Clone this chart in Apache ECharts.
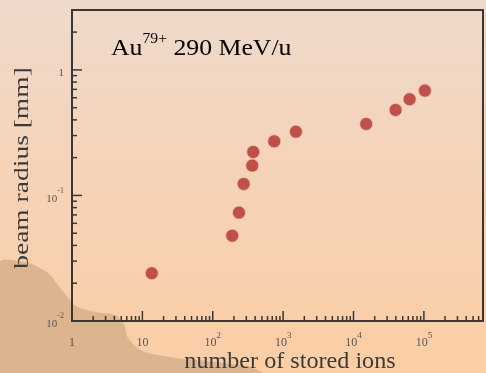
<!DOCTYPE html>
<html>
<head>
<meta charset="utf-8">
<script src="https://cdn.jsdelivr.net/npm/echarts@6/dist/echarts.min.js"></script>
<style>html,body{margin:0;padding:0;}#c{width:486px;height:373px;}</style>
</head>
<body>
<div id="c"></div>
<script>
// ---- data ----
const ionCounts   = [13.6, 189, 236, 275, 364, 376, 748, 1520, 15150, 39600, 62700, 103300];
const beamRadius  = [0.024, 0.0478, 0.073, 0.1235, 0.173, 0.222, 0.270, 0.322, 0.371, 0.480, 0.584, 0.684];
const xTicks      = [1, 10, 100, 1000, 10000, 100000];
const xTickLabels = ['{b|1}', '{b|10}', '{b|10}{s|2}', '{b|10}{s|3}', '{b|10}{s|4}', '{b|10}{s|5}'];
const yTicks      = [0.01, 0.1, 1];
const yTickLabels = ['{b|10}{s|-2}', '{b|10}{s|-1}', '{b|1}'];
const xRange = [1, 692000];
const yRange = [0.01, 3];
const xTitle = 'number of stored ions';
const yTitle = 'beam radius [mm]';

const points = ionCounts.map((x, i) => [x, beamRadius[i]]);

// axis tick marks (major decades + minor 2..9), drawn through the axis scales
const tickData = [];
xTicks.forEach(d => {
  tickData.push([d, yRange[0], 1]);
  for (let k = 2; k <= 9; k++) if (d * k < xRange[1]) tickData.push([d * k, yRange[0], 0]);
});
const yTickMarks = [];
yTicks.forEach(d => {
  yTickMarks.push([xRange[0], d, 1]);
  for (let k = 2; k <= 9; k++) if (d * k < yRange[1]) yTickMarks.push([xRange[0], d * k, 0]);
});

function lookup(v, ticks, labels) {
  for (let i = 0; i < ticks.length; i++) {
    if (Math.abs(Math.log10(v) - Math.log10(ticks[i])) < 1e-6) return labels[i];
  }
  return '';
}

const serif = '"Liberation Serif","DejaVu Serif",serif';
const xRich = {
  b: {fontSize: 12, fontFamily: serif, color: '#555', lineHeight: 18, verticalAlign: 'bottom'},
  s: {fontSize: 9, fontFamily: serif, color: '#555', lineHeight: 18, verticalAlign: 'top'}
};
const yRich = {
  b: {fontSize: 11, fontFamily: serif, color: '#555', lineHeight: 18, verticalAlign: 'bottom'},
  s: {fontSize: 8, fontFamily: serif, color: '#555', lineHeight: 18, verticalAlign: 'top'}
};

const chart = echarts.init(document.getElementById('c'), null, {renderer: 'canvas'});
chart.setOption({
  backgroundColor: {
    type: 'linear', x: 0, y: 0, x2: 0, y2: 1,
    colorStops: [
      {offset: 0, color: '#eedacb'},
      {offset: 0.5, color: '#f6d2b6'},
      {offset: 1, color: '#fbcea4'}
    ]
  },
  animation: false,
  graphic: [
    {
      type: 'polygon', z: -100, silent: true,
      shape: {
        points: [[0,262],[28,263],[48,273],[62,290],[76,306],[95,312],[115,315],[124,324],[128,338],[142,351],[176,358],[215,362],[245,366],[262,373],[0,373]],
        smooth: 0.25
      },
      style: {fill: '#dcb48d'}
    },
    {
      type: 'text', x: 111, y: 32, z: 10, scaleX: 1.12, scaleY: 1,
      style: {
        text: '{a|Au}{s|79+}{a| 290 MeV/u}',
        rich: {
          a: {fontSize: 23, fontFamily: serif, color: '#3a3a3a', lineHeight: 28, verticalAlign: 'bottom'},
          s: {fontSize: 14, fontFamily: serif, color: '#3a3a3a', lineHeight: 28, verticalAlign: 'top'}
        }
      }
    },
    {
      type: 'text', x: 290, y: 362, z: 10, scaleX: 1.05,
      style: {text: xTitle, fontSize: 23, fontFamily: serif, fill: '#3a3a3a', align: 'center', verticalAlign: 'middle'}
    },
    {
      type: 'text', x: 22, y: 168, z: 10, rotation: Math.PI / 2, scaleX: 1.25,
      style: {text: yTitle, fontSize: 22, fontFamily: serif, fill: '#3a3a3a', align: 'center', verticalAlign: 'middle'}
    }
  ],
  grid: {
    left: 72, top: 10, bottom: 52, right: 3,
    show: true, borderColor: '#383838', borderWidth: 2, backgroundColor: 'transparent'
  },
  xAxis: {
    type: 'log', logBase: 10, min: xRange[0], max: xRange[1],
    axisLine: {show: true, lineStyle: {color: '#383838', width: 2}},
    axisTick: {show: false},
    splitLine: {show: false},
    axisLabel: {
      margin: 10, rich: xRich,
      formatter: v => lookup(v, xTicks, xTickLabels)
    }
  },
  yAxis: {
    type: 'log', logBase: 10, min: yRange[0], max: yRange[1],
    axisLine: {show: true, lineStyle: {color: '#383838', width: 2}},
    axisTick: {show: false},
    splitLine: {show: false},
    axisLabel: {
      margin: 8, rich: yRich,
      formatter: v => lookup(v, yTicks, yTickLabels)
    }
  },
  series: [
    {
      type: 'custom', coordinateSystem: 'cartesian2d', silent: true, clip: false, z: 5,
      data: tickData.concat(yTickMarks),
      encode: {x: 0, y: 1},
      renderItem: function (params, api) {
        const x = api.value(0), y = api.value(1), major = api.value(2);
        const p = api.coord([x, y]);
        const isX = (y === yRange[0] && x !== xRange[0]) || (x === xRange[0] && y === yRange[0]);
        const len = major ? 10 : 5;
        if (isX) {
          return {type: 'line', shape: {x1: p[0], y1: p[1], x2: p[0], y2: p[1] - len},
                  style: {stroke: '#383838', lineWidth: 1.5}};
        }
        return {type: 'line', shape: {x1: p[0], y1: p[1], x2: p[0] + len, y2: p[1]},
                style: {stroke: '#383838', lineWidth: 1.5}};
      }
    },
    {
      type: 'scatter', data: points, symbol: 'circle', symbolSize: 13, z: 10,
      itemStyle: {color: '#b0302a', borderColor: 'rgba(242,195,185,0.9)', borderWidth: 1}
    }
  ]
});
</script>
</body>
</html>
